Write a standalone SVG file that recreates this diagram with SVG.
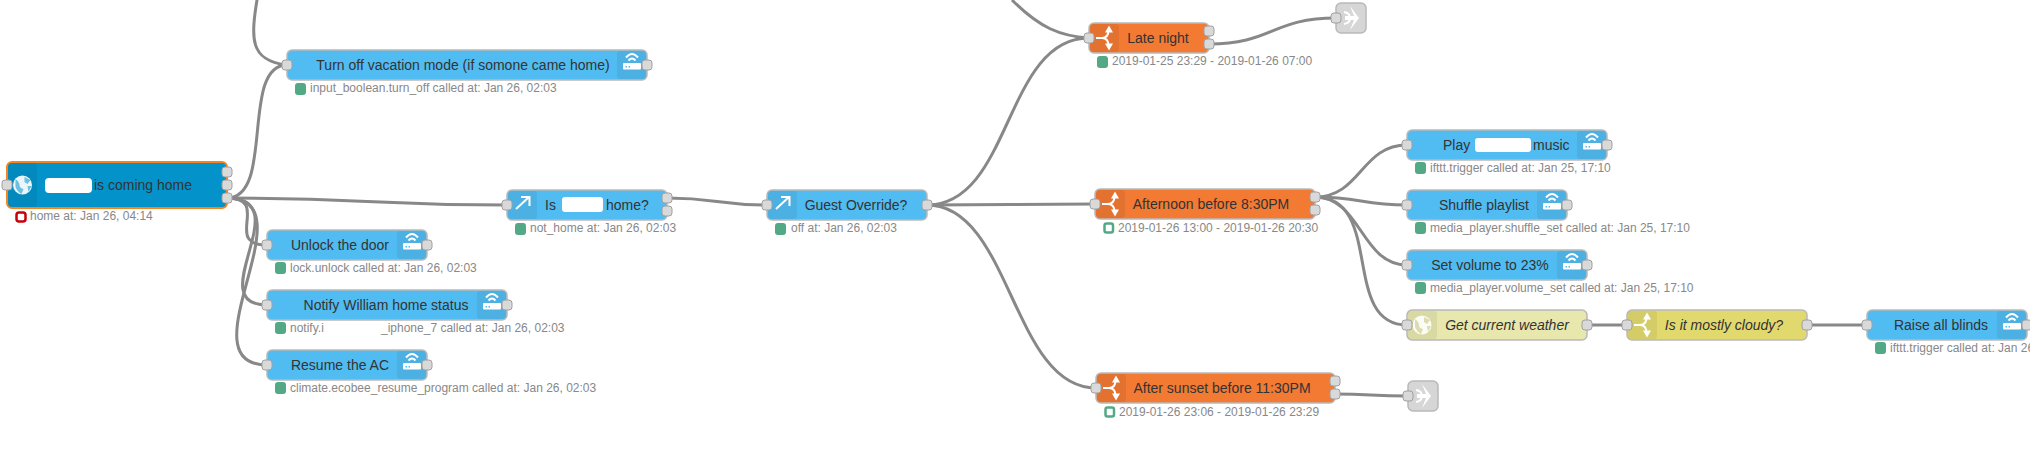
<svg xmlns="http://www.w3.org/2000/svg" xmlns:xlink="http://www.w3.org/1999/xlink" width="2030" height="466" viewBox="0 0 2030 466">
<style>
text{font-family:"Liberation Sans",Arial,sans-serif}
.lbl{font-size:14px;fill:#333;text-anchor:middle}
.lbs{font-size:14px;fill:#333}
.it{font-style:italic}
.st{font-size:12px;fill:#888}
.body{stroke:#b9b9b9;stroke-width:1.5}
.blue{fill:#51bcf1}
.dark{fill:#0392c9;stroke:#f5851f;stroke-width:2}
.org{fill:#f27a33}
.yel{fill:#e2d96e}
.pale{fill:#e7e7ae}
.gry{fill:#d6d6d6}
.sec{fill:#000;fill-opacity:.06}
.port{fill:#d9d9d9;stroke:#a0a0a0;stroke-width:1}
.wire{fill:none;stroke:#888;stroke-width:3}
.ok{fill:#53a985}
.hol{fill:#fff;stroke:#53a985;stroke-width:2.5}
.red{fill:#fff;stroke:#c8000a;stroke-width:2.5}
.blob{fill:#fff}
.ic{fill:#fff}
.il{fill:none;stroke:#fff;stroke-width:2}
</style>
<defs>
<g id="router"><rect class="ic" x="6" y="13" width="18" height="6.500" rx="1"/><rect x="8.500" y="16" width="1.500" height="1.500" fill="#51bcf1"/><rect x="11.500" y="16" width="1.500" height="1.500" fill="#51bcf1"/><path class="il" d="M9,7.500Q15,0.500 21,7.500M11.500,10.500Q15,6.500 18.500,10.500"/></g>
<g id="switch"><path class="il" d="M7,15H13C17,15 19.500,12 19.500,7M13,15C17,15 19.500,18 19.500,23"/><path class="ic" d="M20,2.500L24,9.500L16,9.500ZM20,27.500L24,20.500L16,20.500Z"/></g>
<path id="arrow" class="il" d="M9,19L22,7M14,7H22.500V16"/>
<g id="globe"><circle cx="15" cy="15" r="9.500" fill="#fff" fill-opacity=".92"/><path d="M8,9Q12,12 12,15T16,19L14,24Q10,22 8,17ZM17,7L23,10L20,14L17,12ZM20,16L24,16L21,22Z" fill="#0392c9" fill-opacity=".55"/></g>
<g id="globe2"><circle cx="15" cy="15" r="9.500" fill="#fff" fill-opacity=".9"/><path d="M8,9Q12,12 12,15T16,19L14,24Q10,22 8,17ZM17,7L23,10L20,14L17,12ZM20,16L24,16L21,22Z" fill="#dcdcae"/></g>
<g id="link"><path class="il" d="M8,9Q14,10 14,15T8,21"/><path class="ic" d="M14,3L23,15L14,27L18,17H9V13H18Z"/></g>
</defs>

<g id="connectors">
<path class="wire" d="M258,-6C250,40 250,60 286,65"/>
<path class="wire" d="M227,198C275,198 240,65 287,65"/>
<path class="wire" d="M227,198C367,198 367,205 507,205"/>
<path class="wire" d="M227,198C272,198 222,245 267,245"/>
<path class="wire" d="M227,198C300,198 200,305 267,305"/>
<path class="wire" d="M227,198C312,198 182,365 267,365"/>
<path class="wire" d="M667,198C717,198 717,205 767,205"/>
<path class="wire" d="M927,205C1012,205 1004,38 1089,38"/>
<path class="wire" d="M927,205C1011,205 1011,204 1095,204"/>
<path class="wire" d="M927,205C1011,205 1012,388 1096,388"/>
<path class="wire" d="M1012,0C1040,28 1060,36 1089,38"/>
<path class="wire" d="M1209,44C1272,44 1272,18 1336,18"/>
<path class="wire" d="M1315,197C1361,197 1361,145 1407,145"/>
<path class="wire" d="M1315,197C1361,197 1361,205 1407,205"/>
<path class="wire" d="M1315,197C1361,197 1361,265 1407,265"/>
<path class="wire" d="M1315,197C1385,197 1340,325 1407,325"/>
<path class="wire" d="M1335,394C1371,394 1371,396 1408,396"/>
<path class="wire" d="M1587,325H1627"/>
<path class="wire" d="M1807,325H1867"/>
</g>

<g id="node-coming-home">
<rect class="dark" x="7" y="162" width="220" height="46" rx="5"/>
<rect class="sec" x="8" y="163" width="29" height="44" rx="4"/>
<use href="#globe" x="7.500" y="170"/>
<rect class="blob" x="45" y="178" width="47" height="15" rx="4"/>
<text class="lbs" x="94" y="190">is coming home</text>
<rect class="port" x="2" y="180" width="10" height="10" rx="3"/>
<rect class="port" x="222" y="167" width="10" height="10" rx="3"/>
<rect class="port" x="222" y="180" width="10" height="10" rx="3"/>
<rect class="port" x="222" y="193" width="10" height="10" rx="3"/>
<rect class="red" x="16.500" y="212.500" width="9" height="9" rx="2.500"/>
<text class="st" x="30" y="220">home at: Jan 26, 04:14</text>
</g>

<g id="node-turn-off">
<rect class="body blue" x="287" y="50" width="360" height="30" rx="5"/>
<rect class="sec" x="617" y="51" width="29" height="28" rx="3"/>
<use href="#router" x="617" y="50"/>
<text class="lbl" x="463" y="70">Turn off vacation mode (if somone came home)</text>
<rect class="port" x="282" y="60" width="10" height="10" rx="3"/>
<rect class="port" x="642" y="60" width="10" height="10" rx="3"/>
<rect class="ok" x="295" y="83" width="11" height="12" rx="3"/>
<text class="st" x="310" y="92">input_boolean.turn_off called at: Jan 26, 02:03</text>
</g>

<g id="node-is-home">
<rect class="body blue" x="507" y="190" width="160" height="30" rx="5"/>
<rect class="sec" x="508" y="191" width="29" height="28" rx="3"/>
<use href="#arrow" x="507" y="190"/>
<text class="lbs" x="545" y="210">Is</text>
<rect class="blob" x="562" y="197" width="41" height="15" rx="3"/>
<text class="lbs" x="606" y="210">home?</text>
<rect class="port" x="502" y="200" width="10" height="10" rx="3"/>
<rect class="port" x="662" y="193" width="10" height="10" rx="3"/>
<rect class="port" x="662" y="206" width="10" height="10" rx="3"/>
<rect class="ok" x="515" y="223" width="11" height="12" rx="3"/>
<text class="st" x="530" y="232">not_home at: Jan 26, 02:03</text>
</g>

<g id="node-unlock">
<rect class="body blue" x="267" y="230" width="160" height="30" rx="5"/>
<rect class="sec" x="397" y="231" width="29" height="28" rx="3"/>
<use href="#router" x="397" y="230"/>
<text class="lbl" x="340" y="250">Unlock the door</text>
<rect class="port" x="262" y="240" width="10" height="10" rx="3"/>
<rect class="port" x="422" y="240" width="10" height="10" rx="3"/>
<rect class="ok" x="275" y="262" width="11" height="12" rx="3"/>
<text class="st" x="290" y="272">lock.unlock called at: Jan 26, 02:03</text>
</g>

<g id="node-notify">
<rect class="body blue" x="267" y="290" width="240" height="30" rx="5"/>
<rect class="sec" x="477" y="291" width="29" height="28" rx="3"/>
<use href="#router" x="477" y="290"/>
<text class="lbl" x="386" y="310">Notify William home status</text>
<rect class="port" x="262" y="300" width="10" height="10" rx="3"/>
<rect class="port" x="502" y="300" width="10" height="10" rx="3"/>
<rect class="ok" x="275" y="322" width="11" height="12" rx="3"/>
<text class="st" x="290" y="332">notify.i</text>
<text class="st" x="381" y="332">_iphone_7 called at: Jan 26, 02:03</text>
</g>

<g id="node-resume">
<rect class="body blue" x="267" y="350" width="160" height="30" rx="5"/>
<rect class="sec" x="397" y="351" width="29" height="28" rx="3"/>
<use href="#router" x="397" y="350"/>
<text class="lbl" x="340" y="370">Resume the AC</text>
<rect class="port" x="262" y="360" width="10" height="10" rx="3"/>
<rect class="port" x="422" y="360" width="10" height="10" rx="3"/>
<rect class="ok" x="275" y="382" width="11" height="12" rx="3"/>
<text class="st" x="290" y="392">climate.ecobee_resume_program called at: Jan 26, 02:03</text>
</g>

<g id="node-guest">
<rect class="body blue" x="767" y="190" width="160" height="30" rx="5"/>
<rect class="sec" x="768" y="191" width="29" height="28" rx="3"/>
<use href="#arrow" x="767" y="190"/>
<text class="lbl" x="856" y="210">Guest Override?</text>
<rect class="port" x="762" y="200" width="10" height="10" rx="3"/>
<rect class="port" x="922" y="200" width="10" height="10" rx="3"/>
<rect class="ok" x="775" y="223" width="11" height="12" rx="3"/>
<text class="st" x="791" y="232">off at: Jan 26, 02:03</text>
</g>

<g id="node-late-night">
<rect class="body org" x="1089" y="23" width="120" height="30" rx="5"/>
<rect class="sec" x="1090" y="24" width="29" height="28" rx="3"/>
<use href="#switch" x="1089" y="23"/>
<text class="lbl" x="1158" y="43">Late night</text>
<rect class="port" x="1084" y="33" width="10" height="10" rx="3"/>
<rect class="port" x="1204" y="26" width="10" height="10" rx="3"/>
<rect class="port" x="1204" y="39" width="10" height="10" rx="3"/>
<rect class="ok" x="1097" y="56" width="11" height="12" rx="3"/>
<text class="st" x="1112" y="65">2019-01-25 23:29 - 2019-01-26 07:00</text>
</g>

<g id="node-link-1">
<rect class="body gry" x="1336" y="3" width="30" height="30" rx="5"/>
<use href="#link" x="1336" y="3"/>
<rect class="port" x="1331" y="13" width="10" height="10" rx="3"/>
</g>

<g id="node-afternoon">
<rect class="body org" x="1095" y="189" width="220" height="30" rx="5"/>
<rect class="sec" x="1096" y="190" width="29" height="28" rx="3"/>
<use href="#switch" x="1095" y="189"/>
<text class="lbl" x="1211" y="209">Afternoon before 8:30PM</text>
<rect class="port" x="1090" y="199" width="10" height="10" rx="3"/>
<rect class="port" x="1310" y="192" width="10" height="10" rx="3"/>
<rect class="port" x="1310" y="205" width="10" height="10" rx="3"/>
<rect class="hol" x="1104.500" y="223.500" width="8.500" height="9" rx="2"/>
<text class="st" x="1118" y="232">2019-01-26 13:00 - 2019-01-26 20:30</text>
</g>

<g id="node-after-sunset">
<rect class="body org" x="1096" y="373" width="239" height="30" rx="5"/>
<rect class="sec" x="1097" y="374" width="29" height="28" rx="3"/>
<use href="#switch" x="1096" y="373"/>
<text class="lbl" x="1222" y="393">After sunset before 11:30PM</text>
<rect class="port" x="1091" y="383" width="10" height="10" rx="3"/>
<rect class="port" x="1330" y="376" width="10" height="10" rx="3"/>
<rect class="port" x="1330" y="389" width="10" height="10" rx="3"/>
<rect class="hol" x="1105.500" y="407.500" width="8.500" height="9" rx="2"/>
<text class="st" x="1119" y="416">2019-01-26 23:06 - 2019-01-26 23:29</text>
</g>

<g id="node-link-2">
<rect class="body gry" x="1408" y="381" width="30" height="30" rx="5"/>
<use href="#link" x="1408" y="381"/>
<rect class="port" x="1403" y="391" width="10" height="10" rx="3"/>
</g>

<g id="node-play">
<rect class="body blue" x="1407" y="130" width="200" height="30" rx="5"/>
<rect class="sec" x="1577" y="131" width="29" height="28" rx="3"/>
<use href="#router" x="1577" y="130"/>
<text class="lbs" x="1443" y="150">Play</text>
<rect class="blob" x="1475" y="138" width="56" height="14" rx="3"/>
<text class="lbs" x="1533" y="150">music</text>
<rect class="port" x="1402" y="140" width="10" height="10" rx="3"/>
<rect class="port" x="1602" y="140" width="10" height="10" rx="3"/>
<rect class="ok" x="1415" y="162" width="11" height="12" rx="3"/>
<text class="st" x="1430" y="172">ifttt.trigger called at: Jan 25, 17:10</text>
</g>

<g id="node-shuffle">
<rect class="body blue" x="1407" y="190" width="160" height="30" rx="5"/>
<rect class="sec" x="1537" y="191" width="29" height="28" rx="3"/>
<use href="#router" x="1537" y="190"/>
<text class="lbl" x="1484" y="210">Shuffle playlist</text>
<rect class="port" x="1402" y="200" width="10" height="10" rx="3"/>
<rect class="port" x="1562" y="200" width="10" height="10" rx="3"/>
<rect class="ok" x="1415" y="222" width="11" height="12" rx="3"/>
<text class="st" x="1430" y="232">media_player.shuffle_set called at: Jan 25, 17:10</text>
</g>

<g id="node-volume">
<rect class="body blue" x="1407" y="250" width="180" height="30" rx="5"/>
<rect class="sec" x="1557" y="251" width="29" height="28" rx="3"/>
<use href="#router" x="1557" y="250"/>
<text class="lbl" x="1490" y="270">Set volume to 23%</text>
<rect class="port" x="1402" y="260" width="10" height="10" rx="3"/>
<rect class="port" x="1582" y="260" width="10" height="10" rx="3"/>
<rect class="ok" x="1415" y="282" width="11" height="12" rx="3"/>
<text class="st" x="1430" y="292">media_player.volume_set called at: Jan 25, 17:10</text>
</g>

<g id="node-weather">
<rect class="body pale" x="1407" y="310" width="180" height="30" rx="5"/>
<rect class="sec" x="1408" y="311" width="29" height="28" rx="3"/>
<use href="#globe2" x="1407" y="310"/>
<text class="lbl it" x="1507" y="330">Get current weather</text>
<rect class="port" x="1402" y="320" width="10" height="10" rx="3"/>
<rect class="port" x="1582" y="320" width="10" height="10" rx="3"/>
</g>

<g id="node-cloudy">
<rect class="body yel" x="1627" y="310" width="180" height="30" rx="5"/>
<rect class="sec" x="1628" y="311" width="29" height="28" rx="3"/>
<use href="#switch" x="1627" y="310"/>
<text class="lbl it" x="1724" y="330">Is it mostly cloudy?</text>
<rect class="port" x="1622" y="320" width="10" height="10" rx="3"/>
<rect class="port" x="1802" y="320" width="10" height="10" rx="3"/>
</g>

<g id="node-raise">
<rect class="body blue" x="1867" y="310" width="160" height="30" rx="5"/>
<rect class="sec" x="1997" y="311" width="29" height="28" rx="3"/>
<use href="#router" x="1997" y="310"/>
<text class="lbl" x="1941" y="330">Raise all blinds</text>
<rect class="port" x="1862" y="320" width="10" height="10" rx="3"/>
<rect class="port" x="2022" y="320" width="10" height="10" rx="3"/>
<rect class="ok" x="1875" y="342" width="11" height="12" rx="3"/>
<text class="st" x="1890" y="352">ifttt.trigger called at: Jan 26</text>
</g>
</svg>
